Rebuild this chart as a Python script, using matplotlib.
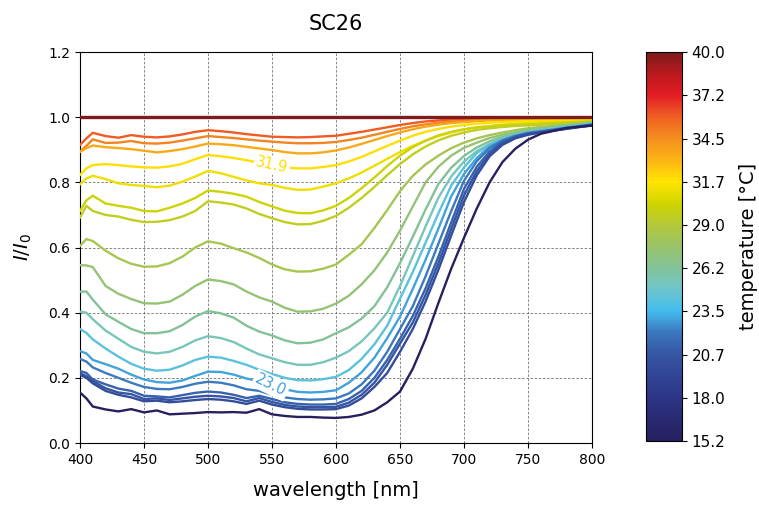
import numpy as np
import matplotlib
matplotlib.use('Agg')
import matplotlib.pyplot as plt
from matplotlib.colors import LinearSegmentedColormap, Normalize
from matplotlib.cm import ScalarMappable

# wavelength grid (nm)
wavelength = [400, 405, 410, 420, 430, 440, 450, 460, 470, 480, 490, 500,
              510, 520, 530, 540, 550, 560, 570, 580, 590, 600, 610, 620,
              630, 640, 650, 660, 670, 680, 690, 700, 710, 720, 730, 740,
              750, 760, 780, 800]

# temperature of each curve [°C]
temps = [40.0, 36.0, 34.8, 33.6, 31.9, 31.2, 30.2, 29.6, 28.3, 27.3,
         26.3, 25.4, 24.3, 23.0, 22.2, 21.3, 20.6, 20.0, 15.2]

# I/I0 for each temperature
t40_0 = [1.0] * 40
t36_0 = [0.915, 0.935, 0.952, 0.942, 0.937, 0.945, 0.940, 0.938, 0.941, 0.947,
         0.955, 0.960, 0.957, 0.953, 0.948, 0.944, 0.940, 0.939, 0.938, 0.939,
         0.941, 0.943, 0.949, 0.955, 0.962, 0.969, 0.976, 0.982, 0.987, 0.990,
         0.993, 0.994, 0.995, 0.996, 0.997, 0.997, 0.998, 0.998, 0.998, 0.998]
t34_8 = [0.894, 0.912, 0.932, 0.921, 0.922, 0.927, 0.920, 0.919, 0.922, 0.928,
         0.935, 0.942, 0.939, 0.936, 0.932, 0.928, 0.925, 0.922, 0.920, 0.920,
         0.921, 0.924, 0.930, 0.937, 0.946, 0.955, 0.964, 0.972, 0.978, 0.983,
         0.987, 0.989, 0.991, 0.993, 0.994, 0.995, 0.995, 0.996, 0.996, 0.996]
t33_6 = [0.894, 0.905, 0.913, 0.908, 0.905, 0.902, 0.897, 0.892, 0.896, 0.902,
         0.910, 0.919, 0.917, 0.914, 0.909, 0.904, 0.899, 0.893, 0.889, 0.889,
         0.892, 0.898, 0.907, 0.918, 0.930, 0.942, 0.953, 0.963, 0.971, 0.977,
         0.982, 0.985, 0.988, 0.990, 0.991, 0.992, 0.993, 0.993, 0.994, 0.994]
t31_9 = [0.823, 0.843, 0.853, 0.856, 0.853, 0.849, 0.846, 0.845, 0.849, 0.857,
         0.871, 0.884, 0.880, 0.875, 0.868, 0.860, 0.852, 0.846, 0.843, 0.843,
         0.847, 0.853, 0.864, 0.878, 0.895, 0.912, 0.928, 0.943, 0.955, 0.964,
         0.971, 0.976, 0.980, 0.983, 0.985, 0.987, 0.988, 0.989, 0.990, 0.991]
t31_2 = [0.794, 0.812, 0.820, 0.810, 0.797, 0.792, 0.789, 0.785, 0.790, 0.802,
         0.818, 0.835, 0.828, 0.817, 0.806, 0.797, 0.792, 0.783, 0.777, 0.778,
         0.787, 0.797, 0.812, 0.830, 0.851, 0.872, 0.893, 0.912, 0.928, 0.942,
         0.953, 0.962, 0.968, 0.973, 0.977, 0.980, 0.982, 0.984, 0.986, 0.989]
t30_2 = [0.712, 0.745, 0.759, 0.735, 0.728, 0.722, 0.712, 0.711, 0.722, 0.735,
         0.752, 0.775, 0.771, 0.765, 0.756, 0.740, 0.726, 0.713, 0.706, 0.705,
         0.714, 0.728, 0.752, 0.782, 0.815, 0.850, 0.882, 0.908, 0.928, 0.944,
         0.955, 0.963, 0.969, 0.972, 0.975, 0.977, 0.978, 0.980, 0.984, 0.987]
t29_6 = [0.692, 0.728, 0.712, 0.700, 0.695, 0.685, 0.678, 0.679, 0.684, 0.695,
         0.712, 0.742, 0.738, 0.732, 0.720, 0.703, 0.690, 0.678, 0.671, 0.672,
         0.682, 0.697, 0.722, 0.752, 0.786, 0.822, 0.856, 0.886, 0.910, 0.929,
         0.943, 0.953, 0.961, 0.966, 0.970, 0.973, 0.975, 0.977, 0.982, 0.986]
t28_3 = [0.605, 0.626, 0.620, 0.590, 0.567, 0.550, 0.541, 0.542, 0.552, 0.572,
         0.600, 0.619, 0.612, 0.598, 0.585, 0.568, 0.548, 0.533, 0.526, 0.527,
         0.535, 0.548, 0.578, 0.610, 0.660, 0.715, 0.773, 0.820, 0.855, 0.882,
         0.905, 0.922, 0.935, 0.945, 0.953, 0.960, 0.966, 0.970, 0.977, 0.984]
t27_3 = [0.546, 0.545, 0.540, 0.482, 0.458, 0.442, 0.429, 0.428, 0.434, 0.455,
         0.482, 0.502, 0.497, 0.487, 0.465, 0.447, 0.434, 0.415, 0.403, 0.404,
         0.412, 0.428, 0.452, 0.487, 0.530, 0.585, 0.652, 0.726, 0.800, 0.848,
         0.882, 0.906, 0.922, 0.936, 0.946, 0.954, 0.962, 0.967, 0.975, 0.982]
t26_3 = [0.464, 0.465, 0.440, 0.395, 0.372, 0.350, 0.337, 0.337, 0.343, 0.362,
         0.388, 0.405, 0.398, 0.385, 0.360, 0.342, 0.330, 0.315, 0.306, 0.308,
         0.318, 0.337, 0.355, 0.382, 0.420, 0.478, 0.552, 0.633, 0.717, 0.795,
         0.845, 0.881, 0.907, 0.926, 0.940, 0.950, 0.958, 0.963, 0.973, 0.981]
t25_4 = [0.403, 0.400, 0.380, 0.345, 0.320, 0.295, 0.280, 0.275, 0.280, 0.295,
         0.315, 0.328, 0.322, 0.310, 0.290, 0.272, 0.260, 0.248, 0.240, 0.240,
         0.248, 0.262, 0.282, 0.312, 0.352, 0.400, 0.482, 0.573, 0.665, 0.753,
         0.818, 0.864, 0.896, 0.918, 0.935, 0.946, 0.955, 0.961, 0.971, 0.980]
t24_3 = [0.350, 0.338, 0.318, 0.290, 0.265, 0.243, 0.228, 0.222, 0.225, 0.238,
         0.255, 0.265, 0.262, 0.252, 0.240, 0.225, 0.212, 0.200, 0.193, 0.192,
         0.196, 0.203, 0.224, 0.258, 0.303, 0.360, 0.443, 0.525, 0.615, 0.705,
         0.790, 0.846, 0.890, 0.915, 0.932, 0.944, 0.953, 0.959, 0.970, 0.979]
t23_0 = [0.282, 0.275, 0.255, 0.242, 0.228, 0.210, 0.195, 0.187, 0.185, 0.192,
         0.206, 0.219, 0.218, 0.210, 0.198, 0.190, 0.178, 0.165, 0.157, 0.155,
         0.157, 0.162, 0.185, 0.217, 0.262, 0.322, 0.388, 0.473, 0.563, 0.658,
         0.757, 0.826, 0.875, 0.910, 0.930, 0.943, 0.952, 0.957, 0.968, 0.978]
t22_2 = [0.258, 0.250, 0.232, 0.215, 0.200, 0.185, 0.172, 0.166, 0.165, 0.172,
         0.182, 0.188, 0.185, 0.177, 0.165, 0.160, 0.148, 0.140, 0.135, 0.133,
         0.134, 0.137, 0.152, 0.180, 0.222, 0.280, 0.350, 0.420, 0.512, 0.612,
         0.712, 0.805, 0.865, 0.905, 0.928, 0.942, 0.951, 0.956, 0.967, 0.977]
t21_3 = [0.221, 0.215, 0.195, 0.180, 0.167, 0.160, 0.145, 0.143, 0.140, 0.147,
         0.154, 0.158, 0.155, 0.148, 0.138, 0.145, 0.135, 0.125, 0.120, 0.118,
         0.118, 0.120, 0.135, 0.160, 0.200, 0.255, 0.320, 0.390, 0.475, 0.572,
         0.677, 0.780, 0.848, 0.895, 0.925, 0.940, 0.950, 0.955, 0.966, 0.976]
t20_6 = [0.214, 0.205, 0.190, 0.168, 0.155, 0.150, 0.135, 0.137, 0.132, 0.137,
         0.142, 0.145, 0.143, 0.138, 0.128, 0.138, 0.126, 0.117, 0.112, 0.110,
         0.110, 0.111, 0.124, 0.148, 0.185, 0.240, 0.305, 0.370, 0.455, 0.552,
         0.657, 0.760, 0.835, 0.887, 0.920, 0.938, 0.948, 0.954, 0.965, 0.976]
t20_0 = [0.209, 0.200, 0.183, 0.160, 0.148, 0.140, 0.128, 0.130, 0.125, 0.128,
         0.132, 0.135, 0.133, 0.128, 0.120, 0.130, 0.118, 0.110, 0.105, 0.103,
         0.103, 0.104, 0.115, 0.137, 0.172, 0.215, 0.280, 0.350, 0.435, 0.532,
         0.637, 0.740, 0.822, 0.880, 0.915, 0.935, 0.946, 0.953, 0.964, 0.975]
t15_2 = [0.155, 0.137, 0.112, 0.103, 0.097, 0.104, 0.094, 0.100, 0.088, 0.090,
         0.092, 0.095, 0.094, 0.095, 0.093, 0.104, 0.088, 0.083, 0.080, 0.080,
         0.078, 0.077, 0.080, 0.087, 0.100, 0.125, 0.158, 0.228, 0.320, 0.430,
         0.535, 0.630, 0.720, 0.800, 0.862, 0.903, 0.931, 0.949, 0.967, 0.974]

series = [t40_0, t36_0, t34_8, t33_6, t31_9, t31_2, t30_2, t29_6, t28_3,
          t27_3, t26_3, t25_4, t24_3, t23_0, t22_2, t21_3, t20_6, t20_0, t15_2]

# inline labels: (temperature, wavelength, I/I0, rotation)
labels = [(31.9, 550, 0.853, -12), (23.0, 549, 0.178, -26)]

cmap = LinearSegmentedColormap.from_list('temp', [
    (0.0, '#26205f'), (0.11, '#2d3485'), (0.22, '#3555a3'), (0.28, '#3b77bf'),
    (0.335, '#44bdee'), (0.40, '#74c7c5'), (0.444, '#82c29a'), (0.52, '#a2c45a'),
    (0.555, '#b4c83a'), (0.61, '#cfd400'), (0.667, '#ffe500'), (0.72, '#fcb814'),
    (0.778, '#f4901e'), (0.84, '#ef5a23'), (0.889, '#e41e25'), (0.94, '#c0191e'),
    (1.0, '#7e1b1b')])
norm = Normalize(vmin=15.2, vmax=40.0)

fig = plt.figure(figsize=(7.59, 5.07), dpi=100)
ax = fig.add_axes([0.1054, 0.1262, 0.6746, 0.7712])
cax = fig.add_axes([0.851, 0.130, 0.0474, 0.767])

for i, (t, y) in enumerate(zip(temps, series)):
    if i == 0:
        ax.plot(wavelength, y, color=cmap(norm(t)), lw=2.4, zorder=5)
    else:
        ax.plot(wavelength, y, color=cmap(norm(t)), lw=1.7, zorder=3)

for t, x, y, rot in labels:
    ax.text(x, y, '%.1f' % t, color=cmap(norm(t)), fontsize=10.5, rotation=rot,
            ha='center', va='center', zorder=4,
            bbox=dict(facecolor='white', edgecolor='none', pad=1.5))

ax.set_xlim(400, 800)
ax.set_ylim(0, 1.2)
ax.set_xticks(np.arange(400, 801, 50))
ax.set_yticks(np.arange(0, 1.21, 0.2))
ax.grid(True, color='0.45', linestyle='--', lw=0.6, dashes=(3, 2))
ax.tick_params(labelsize=10)
ax.set_xlabel('wavelength [nm]', fontsize=14, labelpad=10)
ax.set_ylabel('$I/I_0$', fontsize=14, labelpad=10)
ax.set_title('SC26', fontsize=15, pad=16)

sm = ScalarMappable(norm=norm, cmap=cmap)
cb = fig.colorbar(sm, cax=cax, ticks=np.linspace(15.2, 40.0, 10), format='%.1f')
cb.ax.tick_params(labelsize=11)
cb.set_label('temperature [°C]', fontsize=14, labelpad=10)
cb.outline.set_linewidth(0.8)

fig.savefig('out.png', dpi=100)
